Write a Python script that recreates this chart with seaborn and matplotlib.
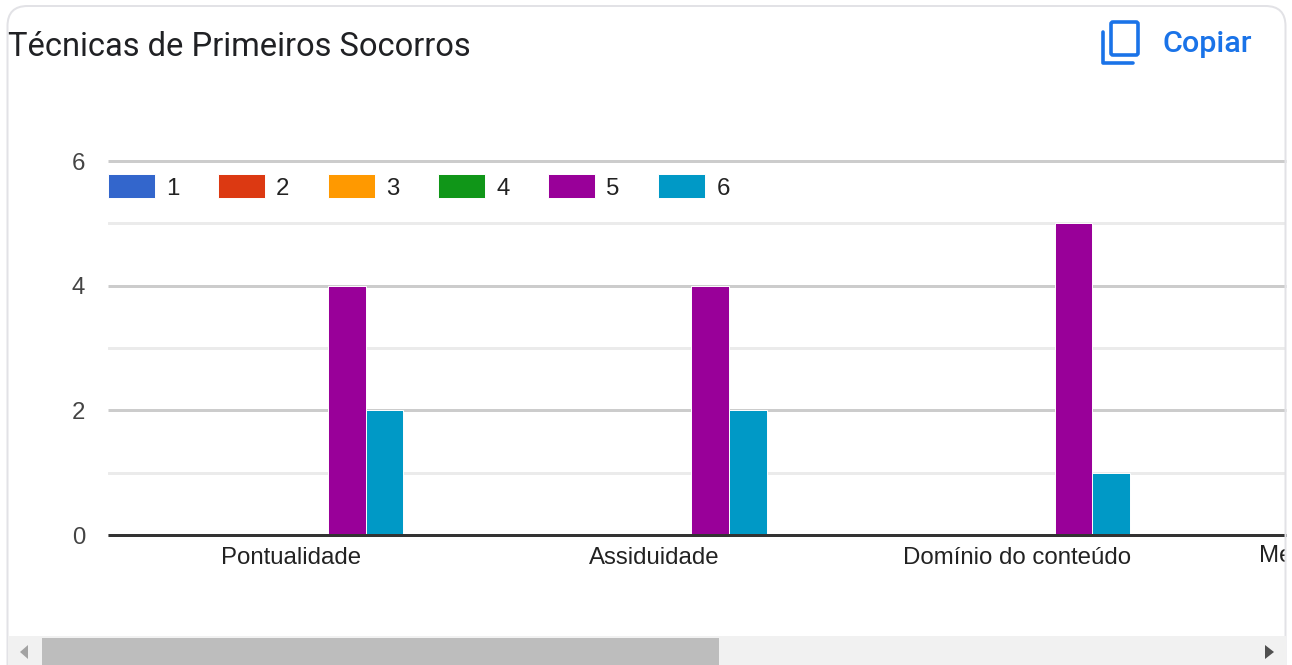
import matplotlib
matplotlib.use("Agg")
import matplotlib.pyplot as plt
import numpy as np
import pandas as pd
import seaborn as sns
from matplotlib.patches import FancyBboxPatch, Rectangle, Polygon
from matplotlib.transforms import Bbox, blended_transform_factory

title = "Técnicas de Primeiros Socorros"
copy_label = "Copiar"
categories = ["Pontualidade", "Assiduidade", "Domínio do conteúdo", "Metodologia de ensino"]
series_names = ["1", "2", "3", "4", "5", "6"]
values_1 = [0, 0, 0, np.nan]
values_2 = [0, 0, 0, np.nan]
values_3 = [0, 0, 0, np.nan]
values_4 = [0, 0, 0, np.nan]
values_5 = [4, 4, 5, np.nan]
values_6 = [2, 2, 1, np.nan]
colors = ["#3366cc", "#dc3912", "#ff9900", "#109618", "#990099", "#0099c6"]

W, H = 1292, 665
sns.set_theme(style="white")
plt.rcParams["font.family"] = ["Liberation Sans", "DejaVu Sans"]
PX = 72 / 100

df = pd.DataFrame({
    "categoria": categories * 6,
    "serie": [s for s in series_names for _ in categories],
    "valor": values_1 + values_2 + values_3 + values_4 + values_5 + values_6,
})

fig = plt.figure(figsize=(W / 100, H / 100), dpi=100, facecolor="white")
ax = fig.add_axes([108 / W, 1 - 535 / H, (1286 - 108) / W, (535 - 161) / H])

sns.barplot(data=df, x="categoria", y="valor", hue="serie", order=categories,
            hue_order=series_names, palette=colors, width=0.62, gap=0,
            saturation=1, edgecolor="white", linewidth=0.7, errorbar=None,
            ax=ax, zorder=3)

ax.set_xlim(-0.504, 2.741)
ax.set_ylim(0, 6)
ax.set_xlabel("")
ax.set_ylabel("")
ax.set_xticks([0, 1, 2], categories[:3])
ax.set_yticks([0, 2, 4, 6])
ax.set_yticks([1, 3, 5], minor=True)
ax.tick_params(axis="x", length=0, pad=8.8, labelsize=24 * PX, labelcolor="#222222")
ax.tick_params(axis="y", which="major", length=0, pad=16.5, labelsize=24 * PX, labelcolor="#444444")
ax.tick_params(axis="y", which="minor", length=0)
ax.grid(False)
ax.yaxis.grid(True, which="major", color="#cccccc", linewidth=3 * PX, zorder=1)
ax.yaxis.grid(True, which="minor", color="#ebebeb", linewidth=3 * PX, zorder=1)
ax.set_axisbelow(True)
for gl in ax.get_ygridlines():
    gl.set_clip_on(False)
    gl.set_solid_capstyle("butt")
for s in ["top", "left", "right"]:
    ax.spines[s].set_visible(False)
ax.spines["bottom"].set_color("#333333")
ax.spines["bottom"].set_linewidth(3 * PX)
ax.spines["bottom"].set_capstyle("butt")
ax.spines["bottom"].set_zorder(5)

leg = ax.legend(loc="center left", bbox_to_anchor=(108 / W, 1 - 187 / H),
                bbox_transform=fig.transFigure, ncol=6, frameon=False,
                fontsize=24 * PX, borderpad=0, borderaxespad=0, handlelength=1.96,
                handleheight=1.16, handletextpad=0.46, columnspacing=1.61, labelspacing=0)
for t in leg.get_texts():
    t.set_color("#222222")

# Fourth category label runs past the visible scroll area and is cut off there
cut = ax.text(3, 1 - 556 / H, categories[3], fontsize=24 * PX, color="#222222", ha="center",
              va="center", transform=blended_transform_factory(ax.transData, fig.transFigure),
              clip_on=True)
cut.set_clip_box(Bbox([[0, 0], [1286, H]]))

# Page furniture in pixel coordinates
ov = fig.add_axes([0, 0, 1, 1], zorder=10)
ov.set_xlim(0, W)
ov.set_ylim(H, 0)
ov.axis("off")
ov.patch.set_alpha(0)

ov.add_patch(FancyBboxPatch((7.5, 6), 1278, 720, boxstyle="round,pad=0,rounding_size=20",
                            fc="none", ec="#e2e2e6", lw=2 * PX, clip_on=True))
ov.text(8, 47, title, fontsize=32.7 * PX, family="Roboto", color="#202124", va="center", ha="left")
ov.text(1162, 44, copy_label, fontsize=30.5 * PX, family="Roboto", color="#1a73e8", va="center",
        ha="left", fontweight="medium")

# copy icon
ov.add_patch(FancyBboxPatch((1111, 22), 27, 33, boxstyle="round,pad=0,rounding_size=2",
                            fc="none", ec="#1a73e8", lw=3.6 * PX))
ov.plot([1103, 1103, 1133], [32, 62.5, 62.5], color="#1a73e8", lw=3.6 * PX, solid_joinstyle="round")

# scroll bar
ov.add_patch(Rectangle((8, 636), 1278, 29, fc="#f1f1f1", ec="none"))
ov.add_patch(Rectangle((42, 638), 677, 27, fc="#bdbdbd", ec="none"))
ov.add_patch(Polygon([[28, 645], [20, 652], [28, 659]], fc="#a3a3a3", ec="none"))
ov.add_patch(Polygon([[1265, 645], [1274, 652], [1265, 659]], fc="#505050", ec="none"))

fig.savefig("out.png", dpi=100, facecolor="white")
